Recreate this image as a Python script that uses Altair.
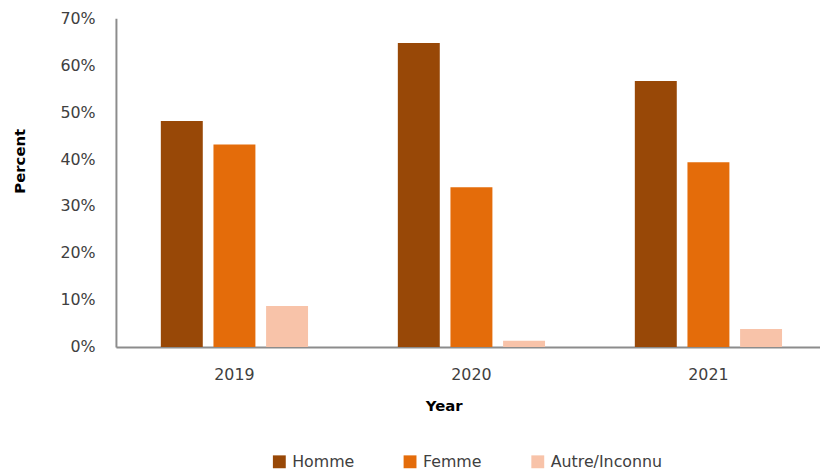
import altair as alt
import pandas as pd

years = ["2019", "2020", "2021"]
groups = ["Homme", "Femme", "Autre/Inconnu"]
homme = [0.481, 0.647, 0.566]
femme = [0.431, 0.340, 0.393]
autre = [0.087, 0.013, 0.038]
colors = ["#984807", "#E46C0A", "#F8C3A9"]

rows = []
for series, vals in zip(groups, [homme, femme, autre]):
    for y, v in zip(years, vals):
        rows.append({"Year": y, "Groupe": series, "Percent": v})
df = pd.DataFrame(rows)

FONT = "DejaVu Sans"

chart = alt.Chart(df).mark_bar().encode(
    x=alt.X(
        "Year:N",
        sort=years,
        scale=alt.Scale(paddingInner=0, paddingOuter=0),
        axis=alt.Axis(
            title="Year",
            labelAngle=0,
            ticks=False,
            tickSize=0,
            labelPadding=20,
            labelFont=FONT,
            labelFontSize=16,
            labelColor="#404040",
            domainColor="#8c8c8c",
            domainWidth=2,
            titleFont=FONT,
            titleFontSize=15,
            titleFontWeight="bold",
            titleColor="#000000",
            titleX=331,
            titleY=59,
            titleBaseline="middle",
        ),
    ),
    xOffset=alt.XOffset(
        "Groupe:N",
        sort=groups,
        scale=alt.Scale(paddingInner=0.203, paddingOuter=0.853),
    ),
    y=alt.Y(
        "Percent:Q",
        scale=alt.Scale(domain=[0, 0.7], nice=False),
        axis=alt.Axis(
            title="Percent",
            values=[0, 0.1, 0.2, 0.3, 0.4, 0.5, 0.6, 0.7],
            format=".0%",
            grid=False,
            ticks=False,
            tickSize=0,
            labelPadding=21,
            labelFont=FONT,
            labelFontSize=16,
            labelColor="#404040",
            domainColor="#8c8c8c",
            domainWidth=2,
            titleFont=FONT,
            titleFontSize=15,
            titleFontWeight="bold",
            titleColor="#000000",
            titleX=-97,
            titleY=144,
            titleBaseline="middle",
        ),
    ),
    color=alt.Color(
        "Groupe:N",
        sort=groups,
        scale=alt.Scale(domain=groups, range=colors),
        legend=alt.Legend(
            title=None,
            orient="none",
            direction="horizontal",
            legendX=157,
            legendY=440,
            symbolType="square",
            symbolSize=169,
            symbolStrokeWidth=0,
            labelFont=FONT,
            labelFontSize=16,
            labelColor="#404040",
            labelOffset=5,
            columnPadding=48,
        ),
    ),
).properties(
    width=718,
    height=332,
    autosize=alt.AutoSizeParams(type="none"),
    padding={"left": 109, "top": 8, "right": -7, "bottom": 122},
).configure_view(stroke=None)

chart.save("out.html", embed_options={"renderer": "svg", "actions": False})
